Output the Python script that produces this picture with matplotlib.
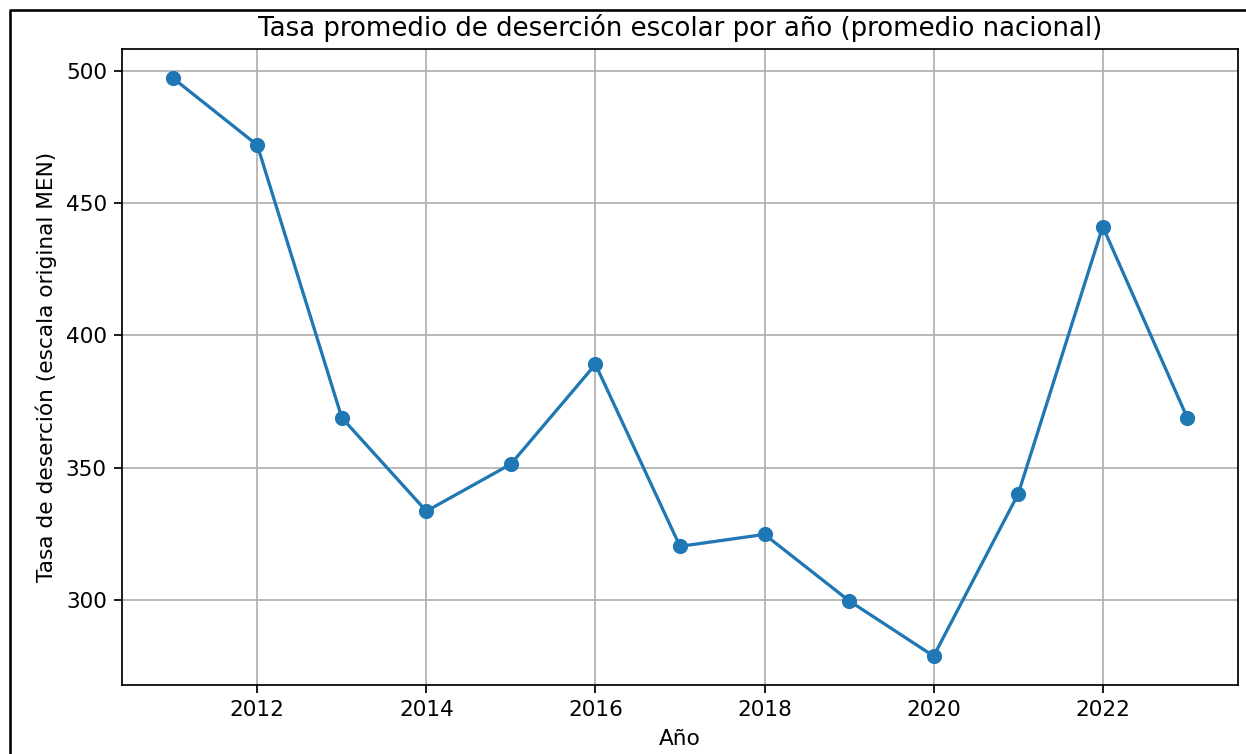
import matplotlib
matplotlib.use("Agg")
import matplotlib.pyplot as plt
from matplotlib.lines import Line2D

# --- Data ---
years = [2011, 2012, 2013, 2014, 2015, 2016, 2017, 2018, 2019, 2020, 2021, 2022, 2023]
tasa = [497.3, 471.9, 368.8, 333.5, 351.3, 389.0, 320.2, 324.7, 299.6, 278.7, 340.0, 441.1, 368.8]

W, H, DPI = 1246, 754, 156
fig = plt.figure(figsize=(W / DPI, H / DPI), dpi=DPI)
ax = fig.add_axes([122 / W, 1 - 685 / H, (1238 - 122) / W, (685 - 49) / H])

ax.plot(years, tasa, marker="o", color="#1f77b4", lw=1.5, ms=6)
ax.grid(True)
ax.set_title("Tasa promedio de deserción escolar por año (promedio nacional)")
ax.set_xlabel("Año")
ax.set_ylabel("Tasa de deserción (escala original MEN)")

# frame of the screenshot (left and top edges only)
fig.add_artist(Line2D([10 / W, 10 / W, 1.0], [0.0, 1 - 10 / H, 1 - 10 / H],
                      transform=fig.transFigure, color="black", lw=1.2))

fig.savefig("out.png", dpi=DPI)
